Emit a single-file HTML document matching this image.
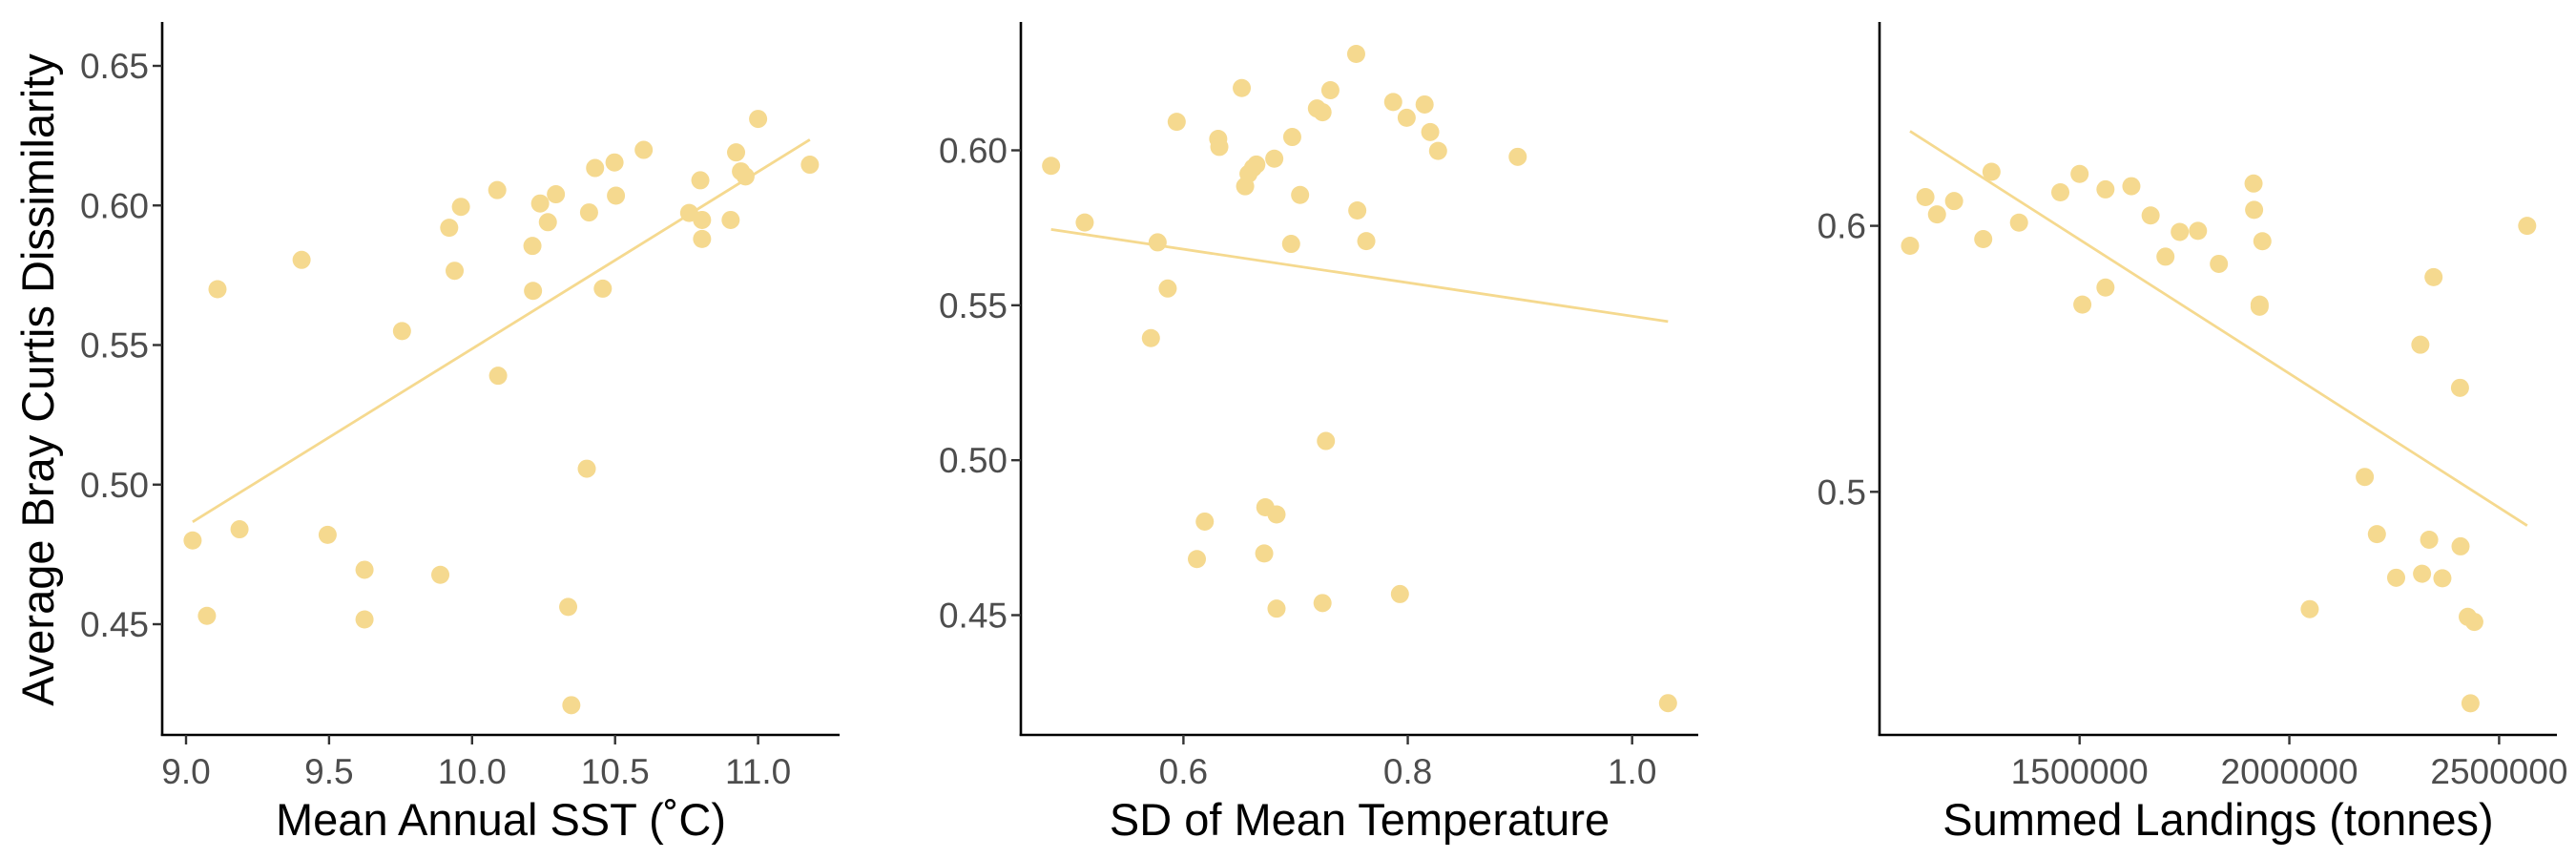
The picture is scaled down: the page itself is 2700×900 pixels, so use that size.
<!DOCTYPE html>
<html><head><meta charset="utf-8"><style>
html,body{margin:0;padding:0;background:#fff;}
svg{display:block;font-family:"Liberation Sans",Arial,sans-serif;}
</style></head><body>
<svg id="chart" width="2700" height="900" viewBox="0 0 2700 900"></svg>
<script>
// Panel 1: Mean Annual SST
const sstX = [9.023,9.073,9.110,9.187,9.404,9.495,9.624,9.624,9.755,9.889,9.920,9.939,9.961,10.088,10.091,10.211,10.213,10.238,10.265,10.293,10.336,10.347,10.401,10.409,10.430,10.457,10.498,10.503,10.600,10.759,10.798,10.804,10.804,10.904,10.923,10.940,10.956,11.000,11.181];
const sstY = [0.480,0.453,0.570,0.484,0.5805,0.482,0.4695,0.4517,0.555,0.4677,0.592,0.5766,0.5995,0.6055,0.539,0.5855,0.5694,0.6007,0.594,0.604,0.4562,0.421,0.5057,0.5975,0.6134,0.5702,0.6154,0.6035,0.6199,0.5973,0.609,0.5948,0.588,0.5948,0.619,0.6122,0.6104,0.631,0.6146];
const sstXTicks = [9.0,9.5,10.0,10.5,11.0];
const sstXTickLabels = ["9.0","9.5","10.0","10.5","11.0"];
const sstYTicks = [0.45,0.50,0.55,0.60,0.65];
const sstYTickLabels = ["0.45","0.50","0.55","0.60","0.65"];
// Panel 2: SD of mean temperature
const sdX = [0.482,0.512,0.577,0.571,0.586,0.594,0.612,0.619,0.631,0.632,0.652,0.655,0.658,0.662,0.665,0.672,0.673,0.681,0.683,0.683,0.696,0.697,0.704,0.719,0.724,0.724,0.727,0.731,0.754,0.755,0.763,0.787,0.793,0.799,0.815,0.820,0.827,0.898,1.032];
const sdY = [0.595,0.5767,0.5703,0.5394,0.5554,0.6092,0.4681,0.4802,0.6037,0.6011,0.6201,0.5884,0.5924,0.5943,0.5954,0.4699,0.4848,0.5973,0.4825,0.4521,0.5698,0.6043,0.5856,0.6135,0.6123,0.4539,0.5062,0.6194,0.6311,0.5806,0.5707,0.6156,0.4568,0.6105,0.6148,0.6059,0.5998,0.5979,0.4216];
const sdXTicks = [0.6,0.8,1.0];
const sdXTickLabels = ["0.6","0.8","1.0"];
const sdYTicks = [0.45,0.50,0.55,0.60];
const sdYTickLabels = ["0.45","0.50","0.55","0.60"];
// Panel 3: Summed landings
const landX = [1095800,1132500,1160100,1200800,1270300,1290000,1355600,1454100,1500000,1506600,1561700,1561700,1623400,1669300,1704700,1738800,1782200,1832000,1914700,1916000,1935700,1929100,1929100,2048600,2179800,2208700,2254600,2312300,2316300,2333300,2343800,2364800,2406800,2408100,2425200,2440900,2431800,2566900];
const landY = [0.5925,0.6108,0.6043,0.6093,0.595,0.6203,0.6012,0.6126,0.6195,0.5704,0.6137,0.5768,0.6149,0.6039,0.5884,0.5977,0.5981,0.5857,0.6159,0.606,0.5942,0.5704,0.5696,0.4559,0.5056,0.4841,0.4677,0.5553,0.4692,0.482,0.5807,0.4675,0.5391,0.4795,0.453,0.4511,0.4205,0.6];
const landXTicks = [1500000,2000000,2500000];
const landXTickLabels = ["1500000","2000000","2500000"];
const landYTicks = [0.5,0.6];
const landYTickLabels = ["0.5","0.6"];

const NS="http://www.w3.org/2000/svg";
const svg=document.getElementById('chart');
const COL="#F5D98F";
function mk(tag,attrs,parent){const e=document.createElementNS(NS,tag);for(const k in attrs)e.setAttribute(k,attrs[k]);(parent||svg).appendChild(e);return e;}
function linScale(d0,d1,r0,r1){return v=>r0+(v-d0)*(r1-r0)/(d1-d0);}
function ols(xs,ys){const n=xs.length;let mx=0,my=0;for(let i=0;i<n;i++){mx+=xs[i];my+=ys[i];}mx/=n;my/=n;let sxy=0,sxx=0;for(let i=0;i<n;i++){sxy+=(xs[i]-mx)*(ys[i]-my);sxx+=(xs[i]-mx)**2;}const b=sxy/sxx;return{b:b,a:my-b*mx};}

function panel(cfg){
  const g=mk('g',{});
  
  
  const x=cfg.xs, y=cfg.ys;
  // fit line
  const fit=ols(cfg.xd,cfg.yd);
  const xmin=Math.min(...cfg.xd), xmax=Math.max(...cfg.xd);
  const ln=mk('line',{x1:x(xmin),y1:y(fit.a+fit.b*xmin),x2:x(xmax),y2:y(fit.a+fit.b*xmax),stroke:COL,'stroke-width':2.8},g);
  
  
  for(let i=0;i<cfg.xd.length;i++){
    const c=mk('circle',{cx:x(cfg.xd[i]),cy:y(cfg.yd[i]),r:9.5,fill:COL},g);
    
    
  }
  // axes
  const ya=mk('line',{x1:cfg.ax,y1:23,x2:cfg.ax,y2:771,stroke:'#000','stroke-width':2.6},g);
  
  
  const xa=mk('line',{x1:cfg.ax-1.3,y1:770,x2:cfg.ax+710,y2:770,stroke:'#000','stroke-width':2.6},g);
  
  
  cfg.yt.forEach((v,i)=>{
    const t=mk('line',{x1:cfg.ax-10,y1:y(v),x2:cfg.ax,y2:y(v),stroke:'#333','stroke-width':2.4},g);
    
    
    const l=mk('text',{x:cfg.ax-14,y:y(v)+13,'text-anchor':'end','font-size':37,fill:'#4d4d4d'},g);
    l.textContent=cfg.ytl[i];
    
    
  });
  cfg.xt.forEach((v,i)=>{
    const t=mk('line',{x1:x(v),y1:770,x2:x(v),y2:780,stroke:'#333','stroke-width':2.4},g);
    
    
    const l=mk('text',{x:x(v),y:821,'text-anchor':'middle','font-size':37,fill:'#4d4d4d'},g);
    l.textContent=cfg.xtl[i];
    
    
  });
  const tt=mk('text',{x:cfg.ax+355,y:875,'text-anchor':'middle','font-size':47,fill:'#000'},g);
  tt.textContent=cfg.title;
  
  
}

panel({name:'sst-panel',ax:170,xs:linScale(9.0,11.0,195,794.6),ys:linScale(0.45,0.65,654,69),xd:sstX,yd:sstY,xt:sstXTicks,xtl:sstXTickLabels,yt:sstYTicks,ytl:sstYTickLabels,title:"Mean Annual SST (˚C)"});
panel({name:'sd-temperature-panel',ax:1070,xs:linScale(0.6,1.0,1240.4,1710.7),ys:linScale(0.45,0.60,644.5,157.5),xd:sdX,yd:sdY,xt:sdXTicks,xtl:sdXTickLabels,yt:sdYTicks,ytl:sdYTickLabels,title:"SD of Mean Temperature"});
panel({name:'landings-panel',ax:1970,xs:linScale(1500000,2500000,2179.7,2619.4),ys:linScale(0.5,0.6,515.3,236.6),xd:landX,yd:landY,xt:landXTicks,xtl:landXTickLabels,yt:landYTicks,ytl:landYTickLabels,title:"Summed Landings (tonnes)"});

const yt=mk('text',{x:0,y:0,'text-anchor':'middle','font-size':47,fill:'#000',transform:'translate(56,398) rotate(-90)'});
yt.textContent="Average Bray Curtis Dissimilarity";


</script>
</body></html>
